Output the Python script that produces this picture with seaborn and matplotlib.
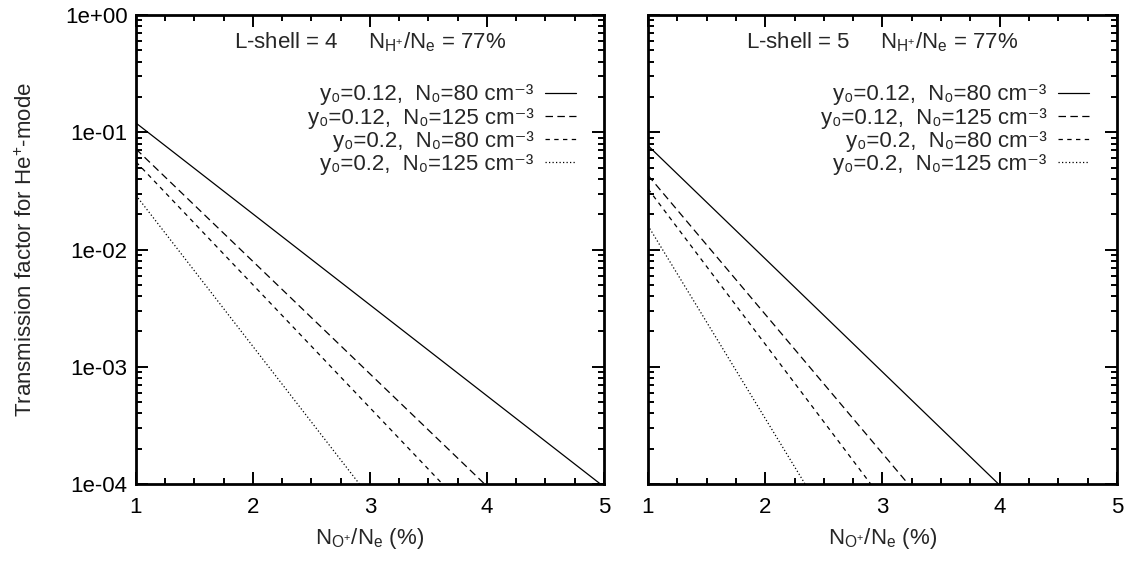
import numpy as np
import pandas as pd
import matplotlib
matplotlib.use("Agg")
import matplotlib.pyplot as plt
import seaborn as sns
from matplotlib.ticker import FixedLocator, LogLocator, NullFormatter, FuncFormatter, AutoMinorLocator

# --- data -----------------------------------------------------------------
lshell_values = [4, 5]
h_fraction = "77%"
curve_labels = [
    "y\u2080=0.12,  N\u2080=80 cm\u207b\u00b3",
    "y\u2080=0.12,  N\u2080=125 cm\u207b\u00b3",
    "y\u2080=0.2,  N\u2080=80 cm\u207b\u00b3",
    "y\u2080=0.2,  N\u2080=125 cm\u207b\u00b3",
]
x_start = 1.0
t_floor = 1e-4
# transmission factor at N_O+/N_e = 1 %
t_start_L4 = [0.120, 0.072, 0.056, 0.029]
t_start_L5 = [0.077, 0.043, 0.033, 0.016]
# N_O+/N_e (%) where the factor has dropped to 1e-4
x_floor_L4 = [4.97, 3.98, 3.62, 2.91]
x_floor_L5 = [3.99, 3.22, 2.90, 2.34]

x_ticks = [1, 2, 3, 4, 5]
y_ticks = [1e-4, 1e-3, 1e-2, 1e-1, 1e0]

rows = []
for lsh, starts, ends in [(4, t_start_L4, x_floor_L4), (5, t_start_L5, x_floor_L5)]:
    for lab, t0, x1 in zip(curve_labels, starts, ends):
        rows.append({"lshell": lsh, "curve": lab, "x": x_start, "t": t0})
        rows.append({"lshell": lsh, "curve": lab, "x": x1, "t": t_floor})
df = pd.DataFrame(rows)

# --- style ----------------------------------------------------------------
FS = 16
LEG_FS = 16
sns.set_style("white")
plt.rcParams["font.family"] = ["Liberation Sans", "DejaVu Sans"]
plt.rcParams["mathtext.fontset"] = "custom"
plt.rcParams["mathtext.rm"] = "Liberation Sans"
plt.rcParams["mathtext.it"] = "Liberation Sans"
plt.rcParams["mathtext.bf"] = "Liberation Sans:bold"
plt.rcParams["font.size"] = FS
plt.rcParams["axes.linewidth"] = 2.0

dash_map = {
    curve_labels[0]: "",
    curve_labels[1]: (6, 3.5),
    curve_labels[2]: (3.5, 3.5),
    curve_labels[3]: (1, 1.8),
}

fig = plt.figure(figsize=(11.32, 5.63), dpi=100)
ax_l = fig.add_axes([0.1201, 0.1403, 0.4134, 0.833])
ax_r = fig.add_axes([0.5724, 0.1403, 0.4143, 0.833])

for ax, lsh in [(ax_l, 4), (ax_r, 5)]:
    sub = df[df["lshell"] == lsh]
    sns.lineplot(data=sub, x="x", y="t", style="curve", style_order=curve_labels,
                 dashes=dash_map, color="black", linewidth=0.9, sort=False,
                 estimator=None, legend=False, ax=ax)
    ax.set_yscale("log")
    ax.set_xlim(1, 5)
    ax.set_ylim(1e-4, 1)
    ax.xaxis.set_major_locator(FixedLocator(x_ticks))
    ax.xaxis.set_minor_locator(AutoMinorLocator(4))
    ax.yaxis.set_major_locator(FixedLocator(y_ticks))
    ax.yaxis.set_minor_locator(LogLocator(base=10, subs=np.arange(2, 10)))
    ax.yaxis.set_minor_formatter(NullFormatter())
    ax.yaxis.set_major_formatter(FuncFormatter(lambda v, p: f"{v:.0e}"))
    ax.tick_params(which="both", direction="in", top=True, right=True,
                   bottom=True, left=True, width=1.4, colors="black")
    ax.tick_params(which="major", length=8.5, labelsize=FS, pad=6)
    ax.tick_params(axis="x", which="major", pad=9)
    ax.tick_params(which="minor", length=4.5)
    for s in ax.spines.values():
        s.set_color("black")
        s.set_linewidth(2.0)
    ax.set_xlabel(r"$\mathregular{N_{O^{+}}/N_e}$ (%)", fontsize=FS, labelpad=6)
    ax.set_ylabel("")
    ax.text(0.5, 0.942,
            f"L-shell = {lsh}     " + r"$\mathregular{N_{H^{+}}/N_e}$ = " + h_fraction,
            transform=ax.transAxes, ha="center", va="center", fontsize=FS)
    handles = ax.get_lines()[:len(curve_labels)]
    ax.legend(handles, curve_labels, loc="upper right", bbox_to_anchor=(0.94, 0.852),
              frameon=False, markerfirst=False, handlelength=1.4, handletextpad=0.5,
              labelspacing=0.1, borderaxespad=0, borderpad=0, fontsize=LEG_FS)

ax_r.tick_params(which="both", labelleft=False)
ax_l.set_ylabel(r"Transmission factor for He$^{\mathregular{+}}$-mode", fontsize=FS, labelpad=20)

fig.savefig("out.png", dpi=100)
